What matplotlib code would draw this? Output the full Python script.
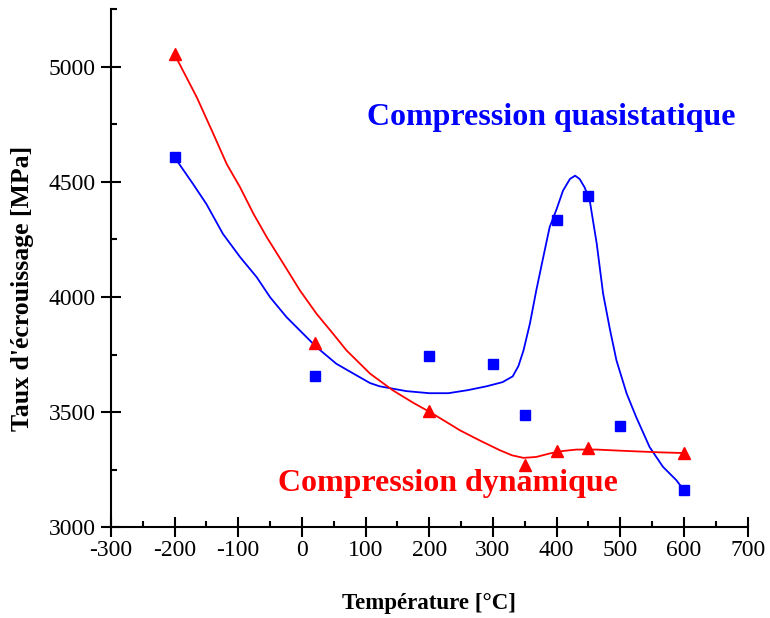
import matplotlib
matplotlib.use("Agg")
import matplotlib.pyplot as plt
from matplotlib.ticker import MultipleLocator

plt.rcParams['font.family'] = ['Liberation Serif', 'DejaVu Serif']
plt.rcParams['axes.unicode_minus'] = False

# Points mesures
temp_qs = [-200, 20, 200, 300, 350, 400, 450, 500, 600]
taux_qs = [4607, 3658, 3743, 3711, 3487, 4335, 4440, 3438, 3160]

temp_dyn = [-200, 20, 200, 350, 400, 450, 600]
taux_dyn = [5054, 3800, 3503, 3269, 3331, 3343, 3322]

# Courbes lissees
courbe_qs_x = [-200, -171, -150, -124, -97, -71, -50, -24, 2, 23, 54, 81, 107, 122,
               164, 200, 230, 260, 290, 315, 331, 340, 348, 358, 368, 379, 389, 400,
               410, 421, 429, 436, 444, 452, 463, 473, 484, 494, 510, 525, 546, 567,
               588, 600]
courbe_qs_y = [4607, 4491, 4404, 4274, 4173, 4086, 3999, 3912, 3840, 3782, 3710, 3667,
               3626, 3612, 3591, 3582, 3582, 3595, 3612, 3630, 3655, 3700, 3768, 3884,
               4028, 4173, 4303, 4382, 4462, 4513, 4527, 4513, 4476, 4419, 4231, 4014,
               3855, 3724, 3580, 3478, 3348, 3262, 3204, 3160]

courbe_dyn_x = [-200, -165, -139, -118, -97, -76, -55, -29, -3, 23, 49, 70, 107, 143,
                175, 201, 225, 248, 279, 311, 330, 348, 368, 389, 410, 431, 463, 510,
                562, 600]
courbe_dyn_y = [5054, 4867, 4708, 4577, 4476, 4361, 4259, 4144, 4028, 3927, 3840, 3768,
                3667, 3594, 3540, 3500, 3460, 3421, 3377, 3334, 3312, 3301, 3305, 3320,
                3331, 3337, 3337, 3331, 3325, 3322]

fig = plt.figure(figsize=(7.7, 6.18), dpi=100)
ax = fig.add_axes([0.144, 0.147, 0.827, 0.838])

ax.plot(courbe_qs_x, courbe_qs_y, color='#0000ff', linewidth=1.3)
ax.plot(courbe_dyn_x, courbe_dyn_y, color='#ff0000', linewidth=1.3)
ax.plot(temp_qs, taux_qs, 's', color='#0000ff', markersize=6.5, linestyle='none')
ax.plot(temp_dyn, taux_dyn, '^', color='#ff0000', markersize=8.5, linestyle='none')

ax.text(391, 4779, 'Compression quasistatique', color='#0000ff', fontsize=23,
        fontweight='bold', ha='center', va='center')
ax.text(230, 3191, 'Compression dynamique', color='#ff0000', fontsize=23,
        fontweight='bold', ha='center', va='center')

ax.set_xlim(-300, 700)
ax.set_ylim(3000, 5250)
ax.xaxis.set_major_locator(MultipleLocator(100))
ax.xaxis.set_minor_locator(MultipleLocator(50))
ax.yaxis.set_major_locator(MultipleLocator(500))
ax.yaxis.set_minor_locator(MultipleLocator(250))

ax.spines['top'].set_visible(False)
ax.spines['right'].set_visible(False)
for s in ['left', 'bottom']:
    ax.spines[s].set_linewidth(1.5)
    ax.spines[s].set_clip_on(False)

ax.tick_params(which='major', direction='inout', length=15, width=1.5, labelsize=17)
ax.tick_params(which='minor', direction='in', length=4.5, width=1.5)
ax.tick_params(axis='x', pad=2)

ax.set_xlabel('Température [°C]', fontsize=16.5, fontweight='bold', labelpad=23)
ax.set_ylabel("Taux d'écrouissage [MPa]", fontsize=18.5, fontweight='bold', labelpad=12)
ax.yaxis.set_label_coords(-0.12, 0.46)

fig.savefig('out.png', dpi=100)
